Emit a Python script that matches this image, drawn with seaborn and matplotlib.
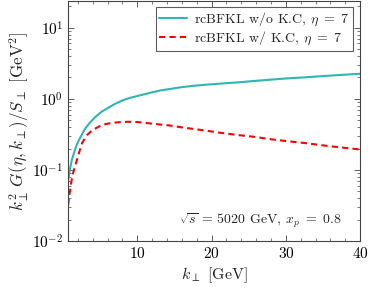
import numpy as np
import pandas as pd
import matplotlib
matplotlib.use("Agg")
import matplotlib.pyplot as plt
import seaborn as sns
from matplotlib.ticker import MultipleLocator, LogLocator, NullFormatter

# values
k_nokc = [0.68, 0.85, 0.99, 1.2, 1.45, 1.8, 2.12, 2.5, 2.97, 3.6, 4.3, 5.2, 6.2, 7.1, 8.0, 9.0,
          10.4, 11.8, 13.1, 14.5, 15.8, 17.5, 19.0, 21.0, 23.5, 26.0, 28.0, 30.0, 32.4, 36.0, 40.0]
g_nokc = [0.071, 0.09, 0.11, 0.14, 0.17, 0.22, 0.26, 0.31, 0.38, 0.46, 0.55, 0.66, 0.76, 0.86, 0.95, 1.03,
          1.12, 1.22, 1.31, 1.38, 1.45, 1.52, 1.57, 1.63, 1.7, 1.79, 1.86, 1.93, 2.0, 2.12, 2.25]

k_kc = [0.68, 0.85, 0.99, 1.22, 1.45, 1.66, 2.12, 2.57, 3.24, 3.8, 4.3, 5.0, 5.7, 6.6, 7.7, 8.6, 9.5,
        10.6, 11.8, 13.1, 14.5, 16.5, 19.0, 21.0, 23.5, 26.0, 28.0, 30.0, 32.4, 36.0, 40.0]
g_kc = [0.032, 0.044, 0.055, 0.079, 0.098, 0.116, 0.17, 0.24, 0.31, 0.35, 0.38, 0.415, 0.44, 0.46, 0.47, 0.475, 0.475,
        0.465, 0.45, 0.435, 0.42, 0.39, 0.36, 0.335, 0.31, 0.29, 0.27, 0.255, 0.24, 0.215, 0.194]

labels = [r"rcBFKL w/o K.C, $\eta\ =\ 7$", r"rcBFKL w/ K.C, $\eta\ =\ 7$"]

df = pd.concat([
    pd.DataFrame({"k": k_nokc, "g": g_nokc, "curve": labels[0]}),
    pd.DataFrame({"k": k_kc, "g": g_kc, "curve": labels[1]}),
])

sns.set_style("ticks")
plt.rcParams["font.family"] = ["cmr10", "DejaVu Serif"]
plt.rcParams["mathtext.fontset"] = "cm"
plt.rcParams["axes.formatter.use_mathtext"] = True

fig = plt.figure(figsize = (3.74, 2.93), dpi = 100)
ax = fig.add_axes([0.182, 0.177, 0.781, 0.821])

sns.lineplot(data = df, x = "k", y = "g", hue = "curve", style = "curve",
             palette = {labels[0]: "#2fb5b5", labels[1]: "#ff0000"},
             dashes = {labels[0]: "", labels[1]: (3, 2)},
             linewidth = 1.5, ax = ax, estimator = None, sort = True)

ax.set_yscale("log")
ax.set_xlim(0.68, 40)
ax.set_ylim(0.01, 24)

ax.xaxis.set_major_locator(MultipleLocator(10))
ax.xaxis.set_minor_locator(MultipleLocator(2))
ax.yaxis.set_major_locator(LogLocator(base = 10, numticks = 10))
ax.yaxis.set_minor_locator(LogLocator(base = 10, subs = np.arange(2, 10), numticks = 20))
ax.yaxis.set_minor_formatter(NullFormatter())

for s in ax.spines.values():
    s.set_color("#444444")
    s.set_linewidth(0.8)
ax.tick_params(which = "both", direction = "in", top = True, right = True, colors = "#444444",
               labelcolor = "black", labelsize = 11)
ax.tick_params(which = "major", length = 4, width = 0.6)
ax.tick_params(which = "minor", length = 2.5, width = 0.5)

ax.set_xlabel(r"$k_\perp$ [GeV]", fontsize = 11.5, labelpad = 3)
ax.set_ylabel(r"$k_\perp^2\, G(\eta, k_\perp)/S_\perp$ [GeV$^2$]", fontsize = 12.3, labelpad = 1)

ax.text(0.658, 0.085, r"$\sqrt{s}$ = 5020 GeV, $x_p\ =\ 0.8$", transform = ax.transAxes,
        ha = "center", va = "center", fontsize = 10)

leg = ax.legend(loc = "upper right", fontsize = 10, frameon = True, fancybox = False,
                edgecolor = "#333333", handlelength = 2.0, borderpad = 0.25,
                labelspacing = 0.15, handletextpad = 0.5, borderaxespad = 0.3,
                bbox_to_anchor = (0.99, 0.99))
leg.get_frame().set_linewidth(0.8)
leg.set_title(None)

fig.savefig("out.png", dpi = 100)
